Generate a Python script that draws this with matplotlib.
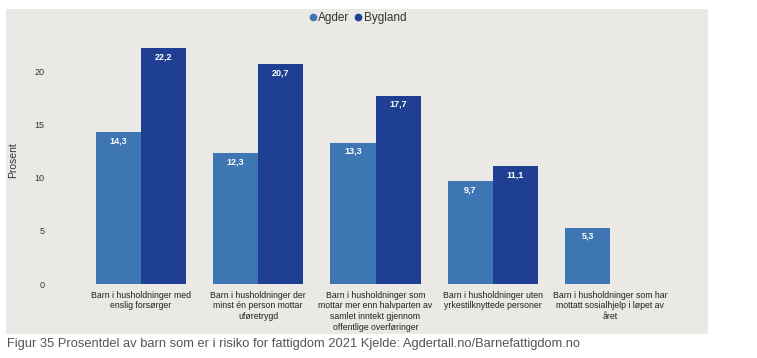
import numpy as np
import matplotlib
matplotlib.use("Agg")
import matplotlib.pyplot as plt
from matplotlib.patches import Rectangle
from matplotlib.lines import Line2D

# data
categories = [
    "Barn i husholdninger med\nenslig forsørger",
    "Barn i husholdninger der\nminst én person mottar\nuføretrygd",
    "Barn i husholdninger som\nmottar mer enn halvparten av\nsamlet inntekt gjennom\noffentlige overføringer",
    "Barn i husholdninger uten\nyrkestilknyttede personer",
    "Barn i husholdninger som har\nmottatt sosialhjelp i løpet av\nåret",
]
agder = [14.3, 12.3, 13.3, 9.7, 5.3]
bygland = [22.2, 20.7, 17.7, 11.1, np.nan]
yticks = [0, 5, 10, 15, 20]

c_agder = "#3e76b3"
c_bygland = "#1f3f93"
bg = "#ebe9e5"

plt.rcParams['font.family'] = ['Liberation Sans', 'DejaVu Sans']

fig = plt.figure(figsize=(7.57, 3.58), dpi=100)
W, H = 757, 358

# grey panel behind the chart
fig.patches.append(Rectangle((6 / W, 1 - 334 / H), 702 / W, 325 / H,
                             transform=fig.transFigure, facecolor=bg,
                             edgecolor="none", zorder=-5))

ax = fig.add_axes([82 / W, 1 - 284 / H, 587 / W, 250 / H])
ax.set_facecolor("none")

x = np.arange(len(categories))
w = 0.385
b1 = ax.bar(x - w / 2, agder, w, color=c_agder, label="Agder", zorder=2)
b2 = ax.bar(x + w / 2, bygland, w, color=c_bygland, label="Bygland", zorder=2)

for bars, vals in ((b1, agder), (b2, bygland)):
    for r, v in zip(bars, vals):
        if np.isnan(v):
            continue
        ax.text(r.get_x() + r.get_width() / 2, v - 0.4,
                f"{v:.1f}".replace(".", ","), ha="center", va="top",
                color="white", fontsize=6.5, fontweight="bold", zorder=3)

ax.set_xlim(-0.5, len(categories) - 0.5)
ax.set_ylim(0, 23.5)
ax.set_yticks(yticks)
ax.set_yticklabels([str(t) for t in yticks], fontsize=6.5, color="#333333")
ax.tick_params(axis="y", length=0, pad=27)
ax.set_xticks(x)
ax.set_xticklabels(categories, fontsize=6.3, color="#222222", linespacing=1.22)
ax.tick_params(axis="x", length=0, pad=5)
for s in ax.spines.values():
    s.set_visible(False)

fig.text(13 / W, 1 - 160 / H, "Prosent", rotation=90, ha="center", va="center",
         fontsize=7.5, color="#333333")

handles = [Line2D([], [], marker="o", linestyle="none", markersize=4.5, color=c)
           for c in (c_agder, c_bygland)]
fig.legend(handles=handles, labels=["Agder", "Bygland"], loc="center",
           bbox_to_anchor=(358 / W, 1 - 18 / H), ncol=2, frameon=False,
           fontsize=8.5, handlelength=0.5, handletextpad=0.2, columnspacing=0.5,
           labelcolor="#333333")

fig.text(7 / W, 1 - 344 / H,
         "Figur 35 Prosentdel av barn som er i risiko for fattigdom 2021 Kjelde: Agdertall.no/Barnefattigdom.no",
         ha="left", va="center", fontsize=9.3, color="#555555")

fig.savefig("out.png", dpi=100, facecolor="white")
